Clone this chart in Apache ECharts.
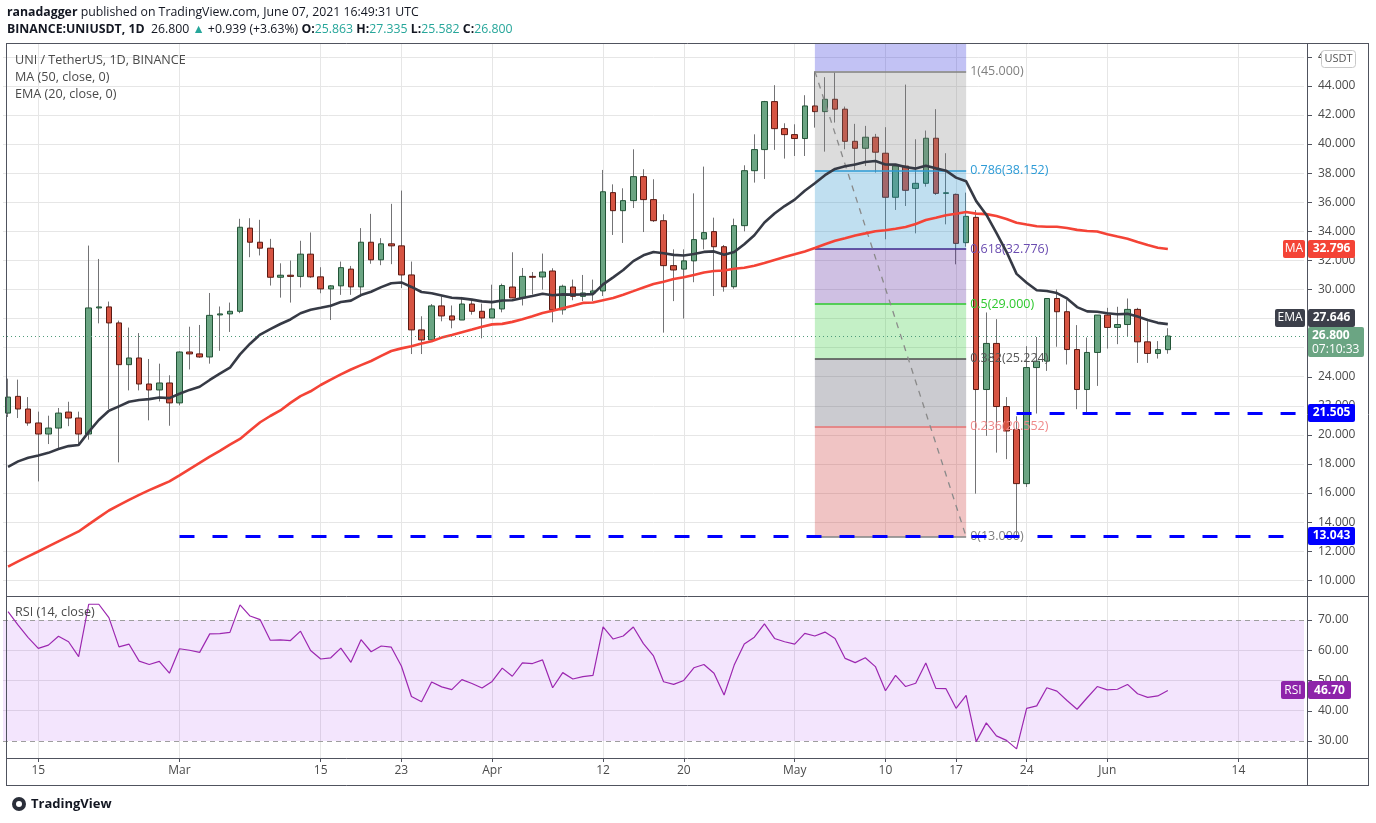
<!DOCTYPE html>
<html>
<head>
<meta charset="utf-8">
<script src="https://cdn.jsdelivr.net/npm/echarts@6.0.0/dist/echarts.min.js"></script>
<style>
html,body{margin:0;padding:0;background:#ffffff;overflow:hidden;}
#chart{width:1376px;height:823px;}
</style>
</head>
<body>
<div id="chart"></div>
<script>
// ---------------- data ----------------
const startDate = '2021-02-12';
const slotCount = 129;

const opens = [21.5, 22.65, 21.78, 20.82, 20.06, 20.47, 21.57, 21.16, 20.06, 28.73,
 28.8, 27.7, 24.83, 25.29, 23.5, 23.09, 23.57, 22.2, 25.7, 25.57,
 25.36, 28.25, 28.32, 28.5, 34.22, 33.25, 32.84, 30.84, 30.98, 30.9,
 32.43, 30.87, 30.04, 30.25, 31.4, 30.18, 33.25, 32.04, 33.14, 33.0,
 31.0, 27.22, 26.53, 28.87, 28.18, 27.9, 29.0, 28.5, 28.04, 28.66,
 30.17, 29.42, 30.9, 30.86, 31.27, 28.6, 30.17, 29.53, 29.76, 29.9,
 36.66, 35.42, 36.11, 37.76, 36.18, 34.73, 31.64, 31.4, 31.97, 33.47,
 33.98, 32.94, 30.19, 34.39, 38.17, 39.62, 42.92, 41.06, 40.65, 40.38,
 42.62, 42.23, 43.08, 42.4, 40.19, 39.71, 40.47, 39.37, 36.34, 38.49,
 36.95, 37.3, 40.4, 36.61, 36.54, 33.22, 34.96, 23.12, 26.29, 21.95,
 20.37, 16.65, 24.63, 25.07, 29.38, 28.47, 25.87, 23.12, 25.67, 28.24,
 27.39, 27.59, 28.63, 26.4, 25.6, 25.863];

const closes = [22.6, 21.78, 20.82, 20.06, 20.47, 21.5, 21.16, 20.06, 28.73, 28.8,
 27.7, 24.83, 25.29, 23.5, 23.09, 23.57, 22.2, 25.7, 25.57, 25.36,
 28.22, 28.32, 28.5, 34.28, 33.25, 32.84, 30.84, 30.98, 30.9, 32.43,
 30.87, 30.04, 30.25, 31.5, 30.18, 33.25, 32.04, 33.14, 33.0, 31.0,
 27.22, 26.53, 28.87, 28.18, 27.9, 29.0, 28.5, 28.04, 28.66, 30.27,
 29.42, 30.9, 30.84, 31.2, 28.6, 30.22, 29.53, 29.76, 29.9, 36.72,
 35.42, 36.11, 37.76, 36.18, 34.73, 31.64, 31.34, 31.97, 33.43, 33.91,
 32.94, 30.19, 34.39, 38.17, 39.62, 42.92, 41.06, 40.65, 40.38, 42.62,
 42.23, 43.08, 42.4, 40.19, 39.71, 40.47, 39.44, 36.34, 38.49, 36.82,
 37.3, 40.4, 36.61, 36.65, 33.17, 35.03, 23.12, 26.29, 21.95, 20.27,
 16.65, 24.63, 25.07, 29.38, 28.47, 25.87, 23.12, 25.67, 28.24, 27.39,
 27.59, 28.63, 26.4, 25.6, 25.861, 26.8];

const lows = [21.23, 21.16, 20.63, 16.8, 19.37, 19.1, 20.6, 19.33, 19.67, 27.67,
 21.78, 18.11, 23.06, 23.06, 21.0, 22.3, 20.63, 22.03, 24.5, 25.3,
 24.9, 25.78, 27.08, 28.37, 32.22, 32.34, 30.27, 29.44, 29.1, 30.14,
 30.8, 29.74, 27.9, 29.63, 29.63, 29.5, 31.77, 31.67, 31.74, 30.1,
 25.56, 25.56, 26.53, 27.81, 27.33, 27.9, 28.27, 26.64, 28.04, 28.43,
 29.42, 28.9, 29.65, 29.99, 27.74, 28.27, 29.26, 29.2, 29.2, 29.55,
 33.75, 33.2, 35.6, 33.95, 34.64, 27.03, 29.2, 28.0, 30.5, 32.76,
 29.55, 29.85, 30.05, 34.0, 37.35, 37.6, 39.6, 39.0, 39.18, 39.18,
 41.13, 39.48, 41.48, 39.64, 38.22, 38.49, 38.04, 33.45, 35.47, 35.74,
 33.86, 37.07, 36.5, 34.48, 31.73, 32.94, 15.96, 19.93, 18.78, 18.33,
 12.9, 16.42, 21.47, 24.4, 26.06, 24.84, 21.77, 21.54, 23.37, 25.94,
 26.24, 26.79, 24.95, 24.95, 25.25, 25.582];

const highs = [23.87, 23.8, 22.6, 21.6, 21.32, 21.85, 22.28, 21.6, 33.02, 32.1,
 29.17, 27.86, 27.38, 27.0, 25.22, 24.9, 24.1, 25.75, 27.44, 27.56,
 29.76, 28.83, 29.1, 34.86, 34.9, 34.79, 33.48, 31.8, 31.99, 33.35,
 33.92, 31.53, 30.3, 31.92, 31.62, 34.22, 35.2, 33.53, 35.89, 36.8,
 31.92, 28.16, 29.0, 29.53, 28.9, 29.49, 29.3, 29.03, 30.33, 30.4,
 32.56, 31.48, 31.2, 32.47, 31.46, 30.33, 30.68, 31.0, 30.68, 38.22,
 37.23, 36.96, 39.64, 38.27, 37.58, 35.17, 32.76, 32.76, 36.61, 38.45,
 34.94, 33.06, 34.87, 38.54, 40.67, 42.97, 44.05, 41.43, 41.36, 43.36,
 45.0, 44.6, 44.92, 42.58, 41.39, 41.25, 40.7, 41.16, 38.5, 44.09,
 40.33, 40.93, 42.4, 39.37, 36.6, 36.66, 35.46, 28.42, 27.96, 22.6,
 21.28, 26.1, 26.74, 29.38, 30.0, 29.27, 27.55, 26.7, 28.24, 28.74,
 28.81, 29.38, 28.74, 27.82, 26.45, 27.335];

// 50-day MA for the first 49 sessions (needs earlier history)
const maEarly = [10.94, 11.3, 11.65, 11.98, 12.33, 12.68, 13.02, 13.36, 13.85, 14.33,
 14.8, 15.17, 15.53, 15.88, 16.2, 16.5, 16.8, 17.22, 17.65, 18.07,
 18.5, 18.9, 19.33, 19.72, 20.3, 20.87, 21.3, 21.68, 22.2, 22.67,
 23.0, 23.43, 23.8, 24.16, 24.5, 24.8, 25.08, 25.43, 25.77, 25.95,
 26.1, 26.28, 26.44, 26.69, 26.87, 27.06, 27.24, 27.43, 27.6];
const emaSeed = 17.8;   // EMA(20) value on the first session

const rsiValues = [72.75, 68.3, 64.2, 60.6, 61.7, 64.6, 62.8, 57.9, 75.2, 75.2,
 70.8, 61.1, 62.0, 56.4, 55.3, 56.3, 52.4, 60.5, 60.0, 59.3,
 65.4, 65.5, 65.9, 75.0, 71.3, 70.1, 63.3, 63.4, 63.2, 66.3,
 59.9, 57.1, 57.5, 60.7, 56.0, 63.5, 59.5, 61.4, 61.0, 54.8,
 44.7, 43.0, 49.5, 47.9, 47.0, 50.3, 49.0, 47.5, 49.7, 54.1,
 51.4, 55.8, 55.6, 56.8, 47.6, 52.6, 50.5, 51.3, 51.7, 67.7,
 63.7, 64.7, 67.7, 62.2, 58.1, 49.6, 48.7, 50.0, 54.2, 55.3,
 52.4, 45.2, 55.1, 62.1, 64.3, 68.7, 63.9, 62.8, 62.0, 65.6,
 64.7, 66.0, 63.9, 57.3, 55.9, 57.5, 54.6, 46.6, 51.7, 48.0,
 49.1, 55.8, 47.4, 47.3, 40.8, 45.1, 29.8, 36.0, 31.7, 30.2,
 27.4, 40.8, 41.6, 47.6, 46.5, 43.4, 40.5, 44.3, 48.0, 46.9,
 47.1, 48.7, 45.6, 44.4, 44.9, 46.7];

const tickDates = ['2021-02-15','2021-03-01','2021-03-15','2021-03-23','2021-04-01','2021-04-12',
 '2021-04-20','2021-05-01','2021-05-10','2021-05-17','2021-05-24','2021-06-01','2021-06-14'];
const tickTexts = ['15','Mar','15','23','Apr','12','20','May','10','17','24','Jun','14'];
const priceTicks = [10,12,14,16,18,20,22,24,26,28,30,32,34,36,38,40,42,44,46];
const rsiTicks = [30,40,50,60,70];

const fibHigh = 45.0, fibLow = 13.0;
const fibLevels = [1, 0.786, 0.618, 0.5, 0.382, 0.236, 0];
const fibStart = '2021-05-03', fibEnd = '2021-05-18';

const supportLevels = [21.505, 13.043];
const supportStarts = ['2021-05-23', '2021-03-01'];

const lastPrice = 26.800, lastMA = 32.796, lastEMA = 27.646, lastRSI = 46.70;
const countdown = '07:10:33';

// ---------------- derived ----------------
const categories = [];
(function(){ const t0 = Date.parse(startDate + 'T00:00:00Z');
  for (let i = 0; i < slotCount; i++) categories.push(new Date(t0 + i*86400000).toISOString().slice(0,10)); })();
const tickTextOf = {}; tickDates.forEach((d,i)=>{ tickTextOf[d] = tickTexts[i]; });
const isTick = (idx, val) => Object.prototype.hasOwnProperty.call(tickTextOf, val);

const wickData = opens.map((o,i)=>[o, closes[i], lows[i], highs[i]]);
const bodyData = opens.map((o,i)=>[o, closes[i], Math.min(o, closes[i]), Math.max(o, closes[i])]);
const ema = []; closes.forEach((c,i)=>{ ema.push(i===0 ? emaSeed : ema[i-1] + (2/21)*(c - ema[i-1])); });
const ma = closes.map((c,i)=> i < maEarly.length ? maEarly[i]
  : closes.slice(i-49, i+1).reduce((a,b)=>a+b, 0)/50);
const fibPrices = fibLevels.map(l => fibLow + l*(fibHigh - fibLow));

// ---------------- chart ----------------
const font = "'Open Sans', 'Noto Sans', sans-serif";
const yMainMin = 8.99, yMainMax = 46.95, yRsiMin = 24.38, yRsiMax = 77.6;
const gridColor = '#e6e6e6';
const fibLine = ['#808080','#2d9bd6','#3f2a8c','#2ec92e','#4d4d4d','#e57373','#808080'];
const fibLabel = ['#808080','#2d9bd6','#6a4cb0','#2ec92e','#555555','#f08a8a','#808080'];
const fibZone = ['rgba(128,128,128,0.28)','rgba(45,148,205,0.3)','rgba(95,45,162,0.3)',
  'rgba(58,205,65,0.3)','rgba(82,82,98,0.3)','rgba(205,58,58,0.3)'];
const fibTop = 'rgba(52,52,218,0.3)';

const fibAreas = [[{xAxis: fibStart, yAxis: yMainMax, itemStyle:{color: fibTop}}, {xAxis: fibEnd, yAxis: fibPrices[0]}]];
for (let i = 0; i < fibPrices.length - 1; i++) {
  fibAreas.push([{xAxis: fibStart, yAxis: fibPrices[i], itemStyle:{color: fibZone[i]}}, {xAxis: fibEnd, yAxis: fibPrices[i+1]}]);
}
const fibLines = fibLevels.map((l,i)=>[
  {coord:[fibStart, fibPrices[i]], lineStyle:{color: fibLine[i], width:1.5, type:'solid'},
   label:{show:true, position:'end', distance:4, formatter: String(l) + '(' + fibPrices[i].toFixed(3) + ')',
          color: fibLabel[i], fontSize:12.5, fontFamily: font}},
  {coord:[fibEnd, fibPrices[i]]}]);
fibLines.push([{coord:[fibStart, fibHigh], lineStyle:{color:'#8a8a8a', width:1.3, type:[6,6]}, label:{show:false}},
               {coord:[fibEnd, fibLow]}]);

const option = {
  animation: false,
  backgroundColor: '#ffffff',
  grid: [
    {left: 3, top: 43, width: 1301, height: 552},
    {left: 3, top: 597, width: 1301, height: 161}
  ],
  xAxis: [
    {type:'category', gridIndex:0, data: categories, boundaryGap:true, show:false},
    {type:'category', gridIndex:1, data: categories, boundaryGap:true,
     axisLine:{show:false},
     axisTick:{show:true, alignWithLabel:true, interval: isTick, length:4, inside:false, lineStyle:{color:'#50535e'}},
     axisLabel:{show:true, interval: isTick, formatter: v => tickTextOf[v] || '', color:'#4a4a4a',
                fontSize:12, fontFamily: font, margin:7},
     splitLine:{show:false}}
  ],
  yAxis: [
    {type:'value', gridIndex:0, min: yMainMin, max: yMainMax, show:false},
    {type:'value', gridIndex:1, min: yRsiMin, max: yRsiMax, show:false}
  ],
  series: [
    { // main pane grid + price labels
      type:'line', xAxisIndex:0, yAxisIndex:0, data:[], silent:true, z:0,
      markLine:{ silent:true, z:0, symbol:['none','none'], animation:false,
        lineStyle:{color: gridColor, width:1, type:'solid'}, label:{show:false},
        emphasis:{disabled:true},
        data: priceTicks.map(v=>({yAxis:v, label:{show:true, position:'end', distance:14,
            formatter: v.toFixed(3), color:'#4a4a4a', fontSize:12, fontFamily: font}}))
          .concat(tickDates.map(d=>({xAxis:d})))
      }
    },
    { // rsi pane grid + labels
      type:'line', xAxisIndex:1, yAxisIndex:1, data:[], silent:true, z:0,
      markLine:{ silent:true, z:0, symbol:['none','none'], animation:false,
        lineStyle:{color: gridColor, width:1, type:'solid'}, label:{show:false},
        emphasis:{disabled:true},
        data: rsiTicks.map(v=>({yAxis:v, lineStyle:{color: (v===30||v===70) ? 'rgba(0,0,0,0)' : gridColor},
            label:{show:true, position:'end', distance:14, formatter: v.toFixed(2),
                   color:'#4a4a4a', fontSize:12, fontFamily: font}}))
          .concat(tickDates.map(d=>({xAxis:d})))
      }
    },
    { // wicks
      type:'candlestick', xAxisIndex:0, yAxisIndex:0, data: wickData, silent:true, z:2,
      barWidth:0.2, barMinWidth:0,
      itemStyle:{color:'#737375', color0:'#737375', borderColor:'#737375', borderColor0:'#737375', borderWidth:1}
    },
    { // bodies
      type:'candlestick', xAxisIndex:0, yAxisIndex:0, data: bodyData, silent:true, z:2,
      barWidth:6,
      itemStyle:{color:'#6ba583', color0:'#d75442', borderColor:'#225437', borderColor0:'#5b1a13', borderWidth:1}
    },
    { // fibonacci retracement
      type:'line', xAxisIndex:0, yAxisIndex:0, data:[], silent:true, z:3,
      markArea:{silent:true, z:3, data: fibAreas, label:{show:false}},
      markLine:{silent:true, z:3, symbol:['none','none'], animation:false, data: fibLines}
    },
    {
      type:'line', name:'MA', xAxisIndex:0, yAxisIndex:0, data: ma, symbol:'none', silent:true, z:4,
      lineStyle:{color:'#f44336', width:2.6}
    },
    {
      type:'line', name:'EMA', xAxisIndex:0, yAxisIndex:0, data: ema, symbol:'none', silent:true, z:4,
      lineStyle:{color:'#363a45', width:2.6}
    },
    { // support lines + last price line
      type:'line', xAxisIndex:0, yAxisIndex:0, data:[], silent:true, z:5,
      markLine:{silent:true, z:5, symbol:['none','none'], animation:false, label:{show:false},
        data: supportLevels.map((v,i)=>[
            {coord:[supportStarts[i], v], lineStyle:{color:'#0000ff', width:3, type:[15,18]}},
            {coord:[categories[slotCount-1], v]}])
          .concat([{yAxis: lastPrice, lineStyle:{color:'#4f9b7a', width:1, type:[1,3]}}])
      }
    },
    { // RSI
      type:'line', xAxisIndex:1, yAxisIndex:1, data: rsiValues, symbol:'none', silent:true, z:3,
      lineStyle:{color:'#9c27b0', width:1.2},
      markArea:{silent:true, z:1, itemStyle:{color:'rgba(135,0,235,0.1)'}, data:[[{yAxis:70},{yAxis:30}]]},
      markLine:{silent:true, z:2, symbol:['none','none'], label:{show:false},
        lineStyle:{color:'#9e9e9e', width:1, type:[5,4]}, data:[{yAxis:70},{yAxis:30}]}
    }
  ]
};

const chart = echarts.init(document.getElementById('chart'));
chart.setOption(option);

// ---------------- overlay texts, frame and price tags ----------------
const py = v => chart.convertToPixel({yAxisIndex:0}, v);
const pr = v => chart.convertToPixel({yAxisIndex:1}, v);
const G = [];
const frame = '#50535e';
function hline(x1, x2, y, color, w, z){ G.push({type:'line', silent:true, z: z||50, shape:{x1:x1, y1:y, x2:x2, y2:y}, style:{stroke:color, lineWidth:w||1}}); }
function vline(x, y1, y2, color, w, z){ G.push({type:'line', silent:true, z: z||50, shape:{x1:x, y1:y1, x2:x, y2:y2}, style:{stroke:color, lineWidth:w||1}}); }
function txt(x, y, s, st, z){ G.push({type:'text', silent:true, z: z||60, x:x, y:y,
  style:Object.assign({text:s, fill:'#4a4a4a', fontSize:13, fontFamily:font, align:'left', verticalAlign:'middle'}, st||{})}); }
function tag(x, y, w, h, s, bg, st){
  G.push({type:'rect', silent:true, z:70, shape:{x:x, y:Math.round(y-h/2), width:w, height:h, r:2}, style:{fill:bg}});
  txt(x + w/2, y, s, Object.assign({fill:'#ffffff', align:'center', fontSize:12, fontWeight:'bold'}, st||{}), 71);
}

// frame
hline(6, 1369, 43.5, frame);
hline(6, 1369, 596.5, frame);
hline(6, 1369, 758.5, frame);
hline(6, 1369, 785.5, frame);
vline(6.5, 43, 786, frame);
vline(1307.5, 43, 786, frame);
vline(1368.5, 43, 786, frame);
priceTicks.forEach(v => hline(1307, 1312, Math.round(py(v))+0.5, frame));
rsiTicks.forEach(v => hline(1307, 1312, Math.round(pr(v))+0.5, frame));

// header
const hf = 12.3;
txt(7, 12, '{b|ranadagger} published on TradingView.com, June 07, 2021 16:49:31 UTC',
  {fill:'#131722', fontSize:hf, rich:{b:{fontWeight:'bold', fontSize:hf, fill:'#131722', fontFamily:font}}});
txt(7, 29, '{b|BINANCE:UNIUSDT, 1D}  26.800 {g|▲} +0.939 (+3.63%) {b|O:}{g|25.863} {b|H:}{g|27.335} {b|L:}{g|25.582} {b|C:}{g|26.800}',
  {fill:'#131722', fontSize:hf, rich:{b:{fontWeight:'bold', fontSize:hf, fill:'#131722', fontFamily:font},
                                      g:{fontSize:hf, fill:'#26a69a', fontFamily:font}}});
// legends
txt(15, 60, 'UNI / TetherUS, 1D, BINANCE', {fill:'#4a4a4a', fontSize:12.6});
txt(15, 77, 'MA (50, close, 0)', {fill:'#4a4a4a', fontSize:12.6});
txt(15, 94, 'EMA (20, close, 0)', {fill:'#4a4a4a', fontSize:12.6});
txt(15, 612, 'RSI (14, close)', {fill:'#4a4a4a', fontSize:12.6});

// USDT box (sits over the 46.000 label, leaving its first digit visible)
G.push({type:'rect', silent:true, z:70, shape:{x:1321.5, y:50.5, width:34, height:17, r:3}, style:{fill:'#ffffff', stroke:'#c8c8c8', lineWidth:1}});
txt(1338.5, 59, 'USDT', {fill:'#555555', fontSize:11, align:'center'}, 71);

// price tags (collision-avoided vertically like the original)
const priceY = py(lastPrice);
const priceTop = Math.round(priceY - 9);
const emaY = Math.min(py(lastEMA), priceTop - 9);
tag(1283, py(lastMA), 22, 18, 'MA', '#f44336', {fontWeight:'normal'});
tag(1308, py(lastMA), 47, 18, lastMA.toFixed(3), '#f44336');
tag(1275, emaY, 30, 18, 'EMA', '#3c3f4a', {fontWeight:'normal'});
tag(1308, emaY, 47, 18, lastEMA.toFixed(3), '#3c3f4a');
G.push({type:'rect', silent:true, z:72, shape:{x:1308, y:priceTop, width:56, height:30, r:2}, style:{fill:'#6ba583'}});
txt(1312, priceY, lastPrice.toFixed(3), {fill:'#ffffff', fontSize:12, fontWeight:'bold'}, 73);
txt(1312, priceY+14, countdown, {fill:'#ffffff', fontSize:12}, 73);
supportLevels.forEach(v => tag(1308, py(v), 47, 18, v.toFixed(3), '#0000ff'));
tag(1281, pr(lastRSI), 24, 18, 'RSI', '#8e24aa', {fontWeight:'normal'});
tag(1308, pr(lastRSI), 43, 18, lastRSI.toFixed(2), '#8e24aa');

// footer logo
G.push({type:'circle', silent:true, z:60, shape:{cx:19, cy:804, r:7}, style:{fill:'#2a2e39'}});
G.push({type:'circle', silent:true, z:61, shape:{cx:19, cy:804, r:3}, style:{fill:'#ffffff'}});
txt(31, 804, 'TradingView', {fill:'#131722', fontSize:13, fontWeight:'bold'});

chart.setOption({graphic: G});
</script>
</body>
</html>
